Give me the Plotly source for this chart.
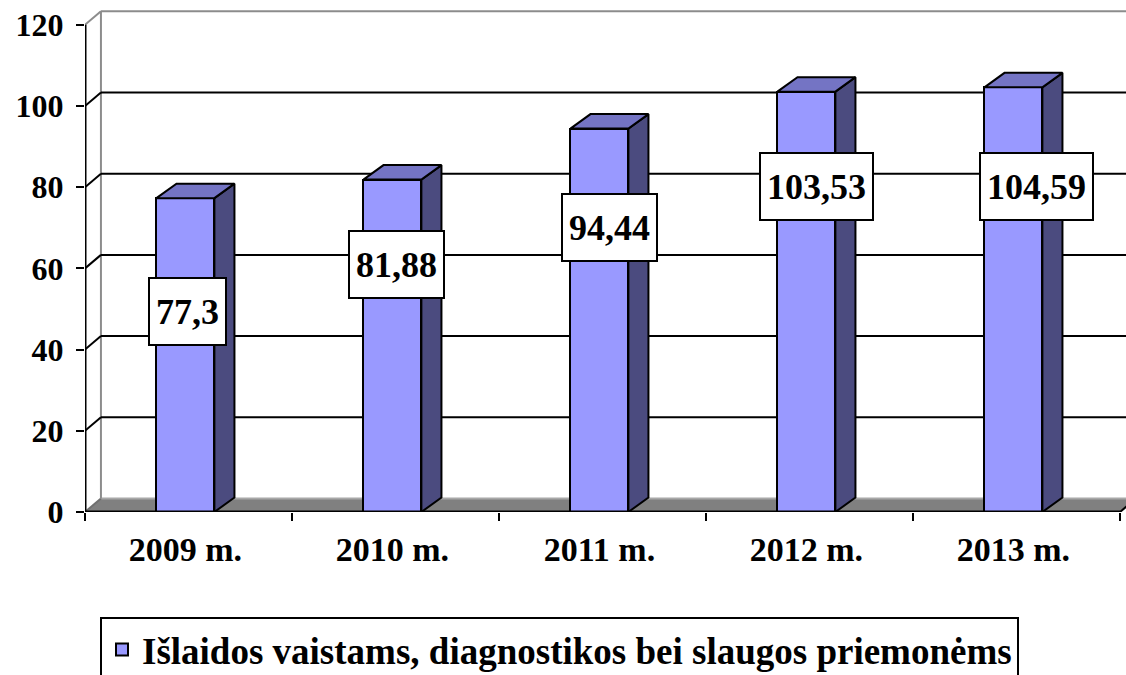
import plotly.graph_objects as go

# Chart data
categories = ["2009 m.", "2010 m.", "2011 m.", "2012 m.", "2013 m."]
values = [77.3, 81.88, 94.44, 103.53, 104.59]
y_ticks = [0, 20, 40, 60, 80, 100, 120]
series_name = "Išlaidos vaistams, diagnostikos bei slaugos priemonėms"

# Placement of the value boxes (axis units)
label_x_shift = [0.01, 0.02, 0.05, 0.05, 0.11]
label_y = [49.4, 61.0, 70.1, 80.2, 80.2]

# 3D look: depth offsets (axis units)
WALL_DX, WALL_DY = 0.077, 3.33
BAR_DX, BAR_DY = 0.097, 3.57
BAR_W = 0.28
BAR_LEFT = 0.345
X_END = len(categories)
Y_MAX = y_ticks[-1]

FRONT = "#9999FF"
SIDE = "#4B4B7F"
TOP = "#7474C4"
FONT = "Liberation Serif"


def bold(s):
    return f"<b>{s}</b>"


centers = [i + BAR_LEFT + BAR_W / 2 for i in range(len(categories))]

fig = go.Figure()

# Front faces of the columns
fig.add_trace(go.Bar(
    x=centers, y=values, width=BAR_W, name=bold(series_name),
    marker=dict(color=FRONT, line=dict(color="black", width=2)),
    hoverinfo="skip", showlegend=True,
))

# Side and top faces
for i, v in enumerate(values):
    x0 = i + BAR_LEFT
    x1 = x0 + BAR_W
    fig.add_trace(go.Scatter(
        x=[x1, x1 + BAR_DX, x1 + BAR_DX, x1, x1],
        y=[0, BAR_DY, v + BAR_DY, v, 0],
        fill="toself", fillcolor=SIDE, mode="lines",
        line=dict(color="black", width=2), showlegend=False, hoverinfo="skip",
    ))
    fig.add_trace(go.Scatter(
        x=[x0, x1, x1 + BAR_DX, x0 + BAR_DX, x0],
        y=[v, v, v + BAR_DY, v + BAR_DY, v],
        fill="toself", fillcolor=TOP, mode="lines",
        line=dict(color="black", width=2), showlegend=False, hoverinfo="skip",
    ))

shapes = []
# Floor
shapes.append(dict(
    type="path", xref="x", yref="y", layer="below",
    path=f"M 0,0 L {X_END},0 L {X_END + WALL_DX},{WALL_DY} L {WALL_DX},{WALL_DY} Z",
    fillcolor="#808080", line=dict(width=0),
))
shapes.append(dict(type="line", xref="x", yref="y", layer="below",
                   x0=WALL_DX, y0=WALL_DY, x1=X_END + WALL_DX, y1=WALL_DY,
                   line=dict(color="#A8A8A8", width=2)))
shapes.append(dict(type="line", xref="x", yref="y", layer="below",
                   x0=0, y0=0, x1=WALL_DX, y1=WALL_DY,
                   line=dict(color="#707070", width=2)))
shapes.append(dict(type="line", xref="x", yref="y", layer="above",
                   x0=X_END, y0=0, x1=X_END + WALL_DX, y1=WALL_DY,
                   line=dict(color="black", width=2)))
# Back wall edges
shapes.append(dict(type="line", xref="x", yref="y", layer="below",
                   x0=WALL_DX, y0=WALL_DY, x1=WALL_DX, y1=Y_MAX + WALL_DY,
                   line=dict(color="#8C8C8C", width=2)))
shapes.append(dict(type="line", xref="x", yref="y", layer="below",
                   x0=WALL_DX, y0=Y_MAX + WALL_DY, x1=X_END + 1, y1=Y_MAX + WALL_DY,
                   line=dict(color="#8C8C8C", width=2)))
shapes.append(dict(type="line", xref="x", yref="y", layer="below",
                   x0=0, y0=Y_MAX, x1=WALL_DX, y1=Y_MAX + WALL_DY,
                   line=dict(color="#8C8C8C", width=2)))
# Gridlines on the back wall
for t in y_ticks[1:-1]:
    shapes.append(dict(type="line", xref="x", yref="y", layer="below",
                       x0=WALL_DX, y0=t + WALL_DY, x1=X_END + 1, y1=t + WALL_DY,
                       line=dict(color="black", width=2)))
    shapes.append(dict(type="line", xref="x", yref="y", layer="below",
                       x0=0, y0=t, x1=WALL_DX, y1=t + WALL_DY,
                       line=dict(color="black", width=2)))
# Front axis edges
shapes.append(dict(type="line", xref="x", yref="y", layer="above",
                   x0=0, y0=0, x1=X_END, y1=0,
                   line=dict(color="black", width=3)))
shapes.append(dict(type="line", xref="x", yref="y", layer="above",
                   x0=0, y0=0, x1=0, y1=Y_MAX,
                   line=dict(color="black", width=3)))

# Value boxes
annotations = []
for i, v in enumerate(values):
    annotations.append(dict(
        x=centers[i] + label_x_shift[i], y=label_y[i], xref="x", yref="y",
        text=bold(f"{v}".replace(".", ",")), showarrow=False,
        font=dict(family=FONT, size=36, color="black"),
        height=53, valign="middle",
        bgcolor="white", bordercolor="black", borderwidth=2, borderpad=6,
        xanchor="center", yanchor="middle",
    ))

W, H = 1126, 675
L, T, B = 85, 10, 163
px_per_x = 207.0
x_range_max = (W - L) / px_per_x
px_per_y = 4.06
y_range_max = (H - T - B) / px_per_y

fig.update_layout(
    width=W, height=H,
    margin=dict(l=L, r=0, t=T, b=B, pad=0, autoexpand=False),
    paper_bgcolor="white", plot_bgcolor="white",
    shapes=shapes, annotations=annotations,
    bargap=0,
    xaxis=dict(
        range=[0, x_range_max], showgrid=False, zeroline=False, showline=False,
        tickmode="array", tickvals=centers, ticktext=[bold(c) for c in categories],
        ticks="", ticklabelstandoff=14,
        tickfont=dict(family=FONT, size=34, color="black"),
        minor=dict(tickmode="array", tickvals=list(range(X_END + 1)),
                   ticks="outside", ticklen=8, tickwidth=2, tickcolor="black"),
        fixedrange=True,
    ),
    yaxis=dict(
        range=[0, y_range_max], showgrid=False, zeroline=False, showline=False,
        tickmode="array", tickvals=y_ticks, ticktext=[bold(t) for t in y_ticks],
        ticks="outside", ticklen=8, tickwidth=2, tickcolor="black",
        ticklabelstandoff=6,
        tickfont=dict(family=FONT, size=32, color="black"),
        fixedrange=True,
    ),
    legend=dict(
        x=(100 - L) / (W - L), y=(H - B - 617) / (H - T - B),
        xref="paper", yref="paper", xanchor="left", yanchor="top",
        bgcolor="white", bordercolor="black", borderwidth=2,
        font=dict(family=FONT, size=37, color="black"),
    ),
    showlegend=True,
)

fig.write_html("out.html")
